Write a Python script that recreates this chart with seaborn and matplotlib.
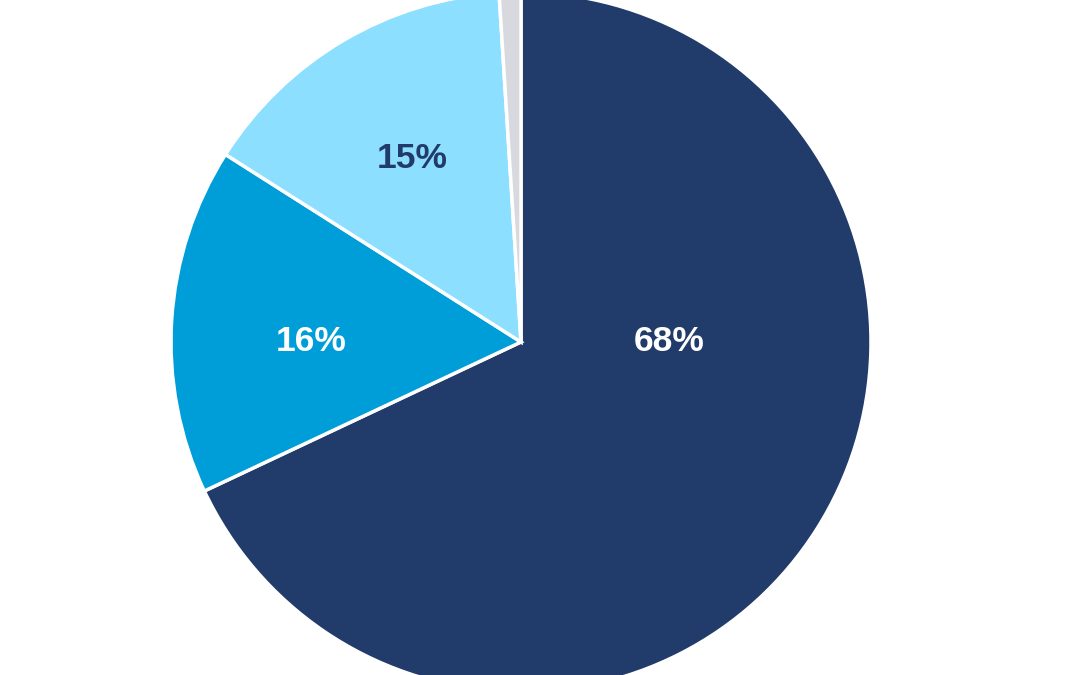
import matplotlib
matplotlib.use("Agg")
import matplotlib.pyplot as plt
import seaborn as sns
import numpy as np

sns.set_theme(style="white")
plt.rcParams['font.family'] = ['Liberation Sans', 'DejaVu Sans']

categories = ["A", "B", "C", "D"]
values = [68, 16, 15, 1]
labels_txt = ["68%", "16%", "15%", ""]
colors = ["#213B6A", "#009ED9", "#8CDFFF", "#D8D9DE"]
text_colors = ["white", "white", "#213B6A", "#213B6A"]

fig = plt.figure(figsize=(10.8, 6.75), dpi=100)
ax = fig.add_axes([0, 0, 1, 1])
wedges, _ = ax.pie(values, colors=colors, startangle=90, counterclock=False,
                   radius=1.0, center=(0, 0),
                   wedgeprops=dict(edgecolor="white", linewidth=2.5))
R = 350.0
ax.set_xlim(-521 / R, (1080 - 521) / R)
ax.set_ylim(-(675 - 342) / R, 342 / R)
ax.set_aspect("auto")
ax.axis("off")

pos = []
for i, w in enumerate(wedges):
    mid = np.deg2rad((w.theta1 + w.theta2) / 2)
    pos.append((0.61 * np.cos(mid), 0.61 * np.sin(mid)))
pos[0] = (0.423, 0.0)
pos[1] = (-0.60, 0.0)
for i, t in enumerate(labels_txt):
    if t:
        ax.text(pos[i][0], pos[i][1], t, ha="center", va="center",
                color=text_colors[i], fontsize=25.5, fontweight="bold")

fig.savefig("out.png", dpi=100)
